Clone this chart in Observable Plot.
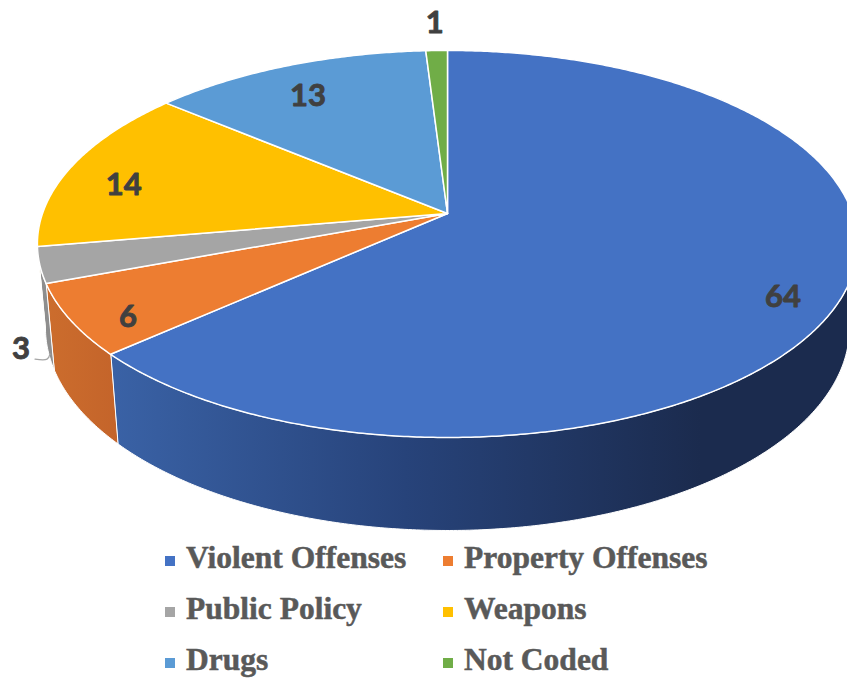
<!DOCTYPE html>
<html><head><meta charset="utf-8">
<script src="https://cdn.jsdelivr.net/npm/d3@7"></script>
<script src="https://cdn.jsdelivr.net/npm/@observablehq/plot@0.6"></script>
<style>
html,body{margin:0;padding:0;background:#fff;overflow:hidden;width:847px;height:679px}
#chart{position:relative;width:847px;height:535px;overflow:hidden}
#legend{position:relative;width:847px;height:144px;font-family:"Liberation Serif","Times New Roman",serif;font-weight:bold;font-size:31.5px;color:#595959;-webkit-text-stroke:0.5px #595959}
.item{position:absolute;display:flex;align-items:center;height:51px;white-space:nowrap}
.sw{width:10px;height:10px;margin-right:11px;flex:none}
.txt{position:relative;top:-3px}
</style></head><body>
<div id="chart"></div><div id="legend"></div>
<script>
// ---- data ----
const categories = ["Violent Offenses", "Property Offenses", "Public Policy", "Weapons", "Drugs", "Not Coded"];
const values = [64, 6, 3, 14, 13, 1];
const labels = ["64", "6", "3", "14", "13", "1"];
const topColors = ["#4472C4", "#ED7D31", "#A5A5A5", "#FFC000", "#5B9BD5", "#70AD47"];
const sideColors = ["url(#sideBlue)", "url(#sideOrange)", "#8e8e8e", "#c79600", "#4679a6", "#58883a"];

// ---- 3D perspective projection of a tilted disk ----
const S = 0.466, C = Math.sqrt(1 - S * S);   // elevation sin/cos
const D = 5.62, F = 2276, T = 0.236;          // camera distance, focal, thickness
function proj(r, aDeg, Y) {
  const a = aDeg * Math.PI / 180;
  const X = r * Math.sin(a), Z = -r * Math.cos(a);
  const depth = D - (Z * C + Y * S);
  return {x: F * X / depth, y: F * (Y * C - Z * S) / depth};
}
const aL = Math.acos(-C / D) * 180 / Math.PI, aR = 360 - aL; // visible wall range

const total = d3.sum(values);
let acc = 0;
const slices = values.map((v, i) => {
  const a0 = acc / total * 360; acc += v; const a1 = acc / total * 360;
  return {i, a0, a1, mid: (a0 + a1) / 2};
});
function arc(a0, a1, Y) {
  const n = Math.max(2, Math.ceil((a1 - a0) / 0.5));
  return d3.range(n + 1).map(k => proj(1, a0 + (a1 - a0) * k / n, Y));
}

const marks = [];
// side walls
slices.forEach(s => {
  const b0 = Math.max(s.a0, aL), b1 = Math.min(s.a1, aR);
  if (b1 <= b0) return;
  const pts = arc(b0, b1, 0).concat(arc(b0, b1, -T).reverse());
  marks.push(Plot.line(pts, {x: "x", y: "y", curve: "linear-closed", fill: sideColors[s.i], stroke: "white", strokeWidth: 1, strokeLinejoin: "round"}));
});
// top faces
slices.forEach(s => {
  const pts = [{x: 0, y: 0}].concat(arc(s.a0, s.a1, 0));
  marks.push(Plot.line(pts, {x: "x", y: "y", curve: "linear-closed", fill: topColors[s.i], stroke: "white", strokeWidth: 1.5, strokeLinejoin: "round"}));
});
// labels
const inside = [], leaders = [];
slices.forEach(s => {
  const span = s.a1 - s.a0;
  if (span >= 12) {
    const p = proj(0.86, s.mid, -0.15 * T);
    inside.push({x: p.x, y: p.y, t: labels[s.i]});
  } else if (s.mid > aL && s.mid < aR) {
    const E = proj(1, s.a0 + 0.25 * span, -0.93 * T);
    const L = {x: E.x - 29, y: E.y + 5};
    inside.push({x: L.x, y: L.y, t: labels[s.i]});
    leaders.push([{x: L.x + 14, y: L.y - 10}, {x: E.x - 3, y: L.y - 10}, E]);
  } else {
    const p = proj(1.2, s.mid, 0);
    inside.push({x: p.x, y: p.y, t: labels[s.i]});
  }
});
leaders.forEach(l => marks.push(Plot.line(l, {x: "x", y: "y", stroke: "#a6a6a6", strokeWidth: 1.3, curve: "catmull-rom"})));
marks.push(Plot.text(inside, {x: "x", y: "y", text: "t", fontFamily: "Lato", fontWeight: "bold", fontSize: 31, fill: "#404040", stroke: "#404040", strokeWidth: 0.9}));

const svg = Plot.plot({
  width: 847, height: 535, margin: 0,
  x: {domain: [-447, 400], axis: null},
  y: {domain: [-322, 213], axis: null},
  marks
});
const ns = "http://www.w3.org/2000/svg";
const defs = document.createElementNS(ns, "defs");
defs.innerHTML = `
<linearGradient id="sideBlue" gradientUnits="userSpaceOnUse" x1="110" y1="0" x2="700" y2="0">
  <stop offset="0" stop-color="#3a62a6"/><stop offset="0.5" stop-color="#27437a"/><stop offset="1" stop-color="#1b2b4e"/>
</linearGradient>
<linearGradient id="sideOrange" gradientUnits="userSpaceOnUse" x1="45" y1="0" x2="125" y2="0">
  <stop offset="0" stop-color="#cc6d2d"/><stop offset="1" stop-color="#c3632a"/>
</linearGradient>`;
svg.insertBefore(defs, svg.firstChild);
document.getElementById("chart").appendChild(svg);

// legend
const legend = document.getElementById("legend");
categories.forEach((c, i) => {
  const it = document.createElement("div");
  it.className = "item";
  it.style.left = (i % 2 === 0 ? 165 : 443) + "px";
  it.style.top = (Math.floor(i / 2) * 51) + "px";
  it.innerHTML = `<span class="sw" style="background:${topColors[i]}"></span><span class="txt">${c}</span>`;
  legend.appendChild(it);
});
</script>
</body></html>
